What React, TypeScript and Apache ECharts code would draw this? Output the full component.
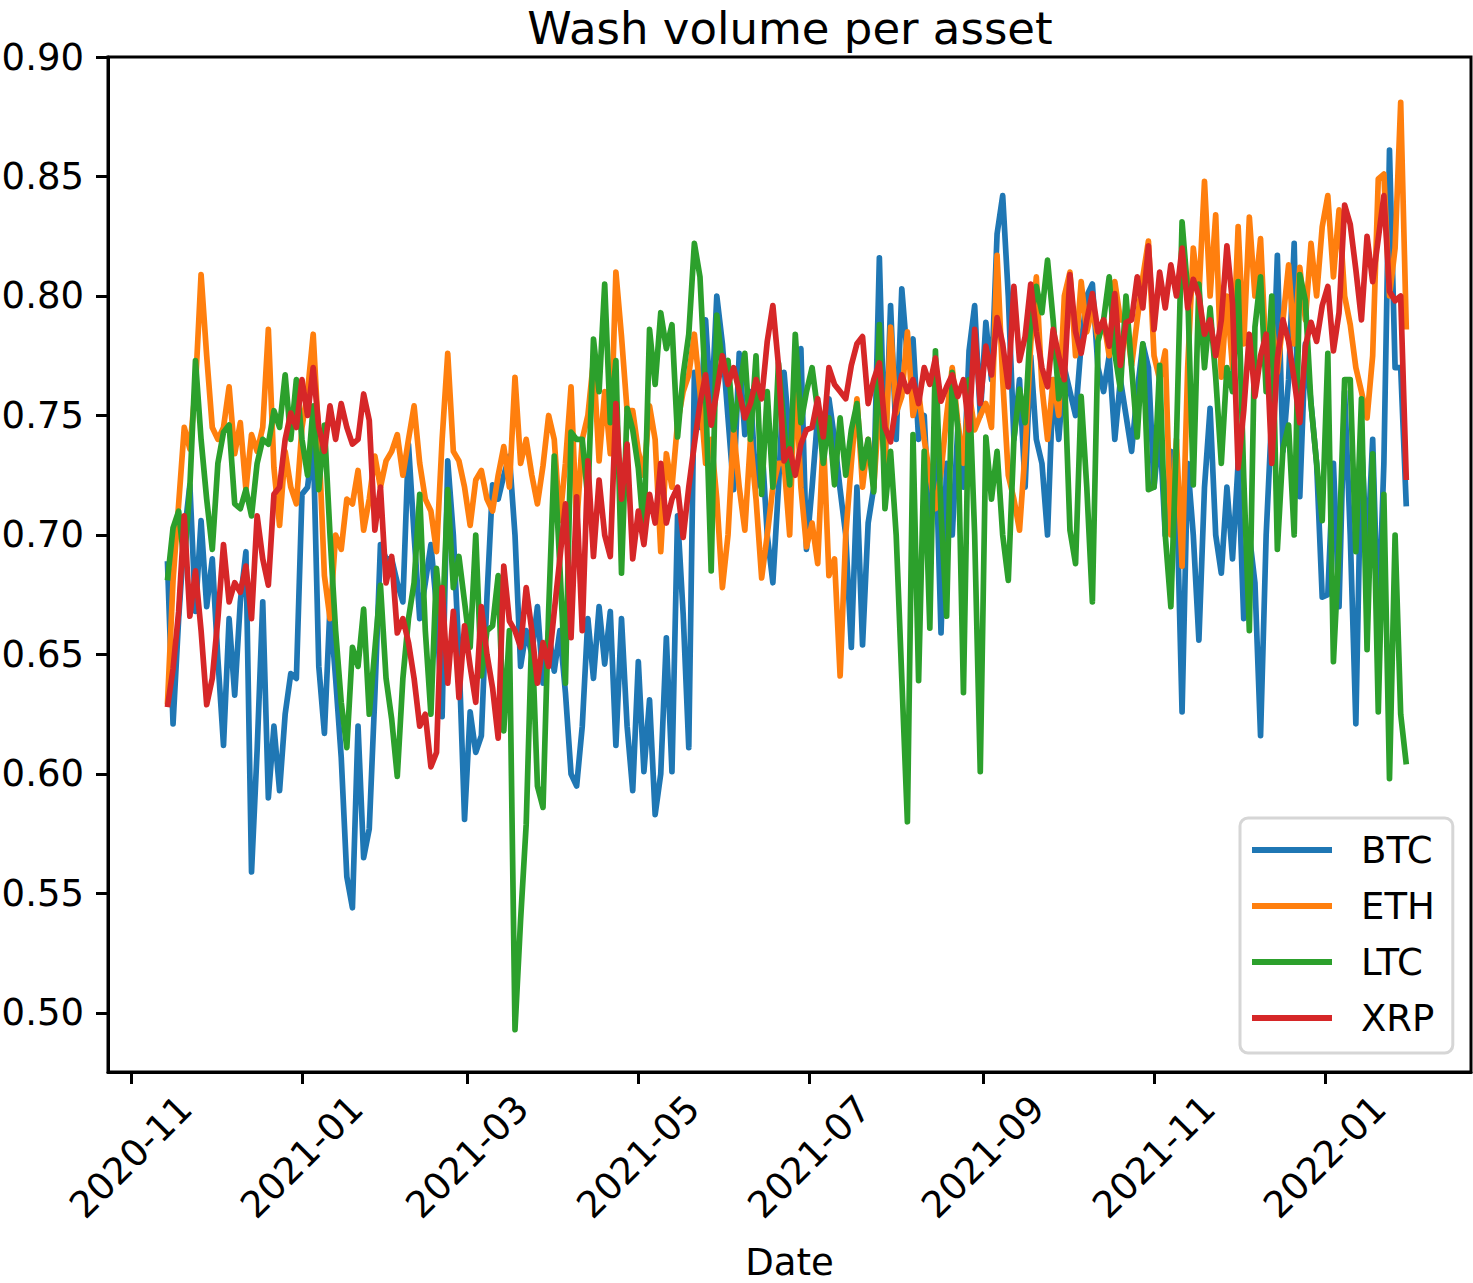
import React, { useEffect, useRef } from "react";
import * as echarts from "echarts";

// Daily-ish observations, one value every 2 days from 2020-11-14 (values in thousandths)
const DAY_MS = 86400000;
const START_DATE = Date.UTC(2020, 10, 14);
const STEP_DAYS = 2;

const SERIES_NAMES = ["BTC", "ETH", "LTC", "XRP"];
const COLORS = ["#1f77b4", "#ff7f0e", "#2ca02c", "#d62728"];

const X_TICK_DATES = [
  "2020-11-01", "2021-01-01", "2021-03-01", "2021-05-01",
  "2021-07-01", "2021-09-01", "2021-11-01", "2022-01-01",
];
const Y_TICKS = [0.5, 0.55, 0.6, 0.65, 0.7, 0.75, 0.8, 0.85, 0.9];
const X_RANGE = ["2020-10-23T19:00:00Z", "2022-02-22T02:00:00Z"];
const Y_RANGE = [0.4753, 0.9];

const BTC = [
  689, 621, 665, 700, 721, 668, 706, 670, 690,
  648, 612, 665, 633, 672, 693, 559, 610, 672, 590, 620, 593, 625, 642, 640,
  717, 720, 740, 645, 617, 670, 640, 607, 557, 544, 620, 565, 577, 633, 696, 690,
  690, 680, 672, 738, 700, 665, 680, 696, 670, 624, 731, 700, 650, 581,
  626, 609, 616, 674, 721, 715, 725, 733, 700, 645, 660, 650, 670, 638, 660,
  643, 660, 634, 600, 595, 620, 665, 640, 670, 646, 668, 612, 665, 620, 593,
  647, 601, 631, 583, 600, 657, 601, 708, 667, 611, 768, 745, 790, 750, 800, 780,
  749, 719, 776, 742, 760, 720, 740, 700, 680, 720, 768, 740, 750, 778, 694,
  720, 750, 735, 757, 740, 719, 700, 653, 720, 654, 705, 720, 816, 730, 796,
  740, 803, 774, 782, 740, 750, 700, 740, 659, 730, 700, 745, 720, 777, 796, 750,
  789, 765, 826, 842, 800, 740, 765, 720, 775, 740, 730, 700, 765, 740, 770,
  760, 750, 780, 800, 805, 770, 760, 775, 740, 765, 750, 735, 760, 780, 770,
  720, 745, 700, 735, 720, 626, 730, 700, 656, 720, 753, 700, 684, 720, 690,
  730, 665, 700, 680, 616, 700, 750, 817, 735, 765, 822, 716, 780, 755, 730, 674,
  675, 730, 670, 760, 700, 621, 740, 690, 740, 660, 730, 861, 770, 770, 712,
];

const ETH = [
  629, 681, 713, 745, 736, 762, 809, 775, 745,
  740, 745, 762, 734, 747, 719, 742, 735, 745, 786, 728, 704, 735, 720, 713,
  745, 760, 784, 740, 683, 665, 700, 694, 715, 713, 727, 702, 715, 733, 720, 731,
  735, 742, 725, 740, 754, 730, 715, 710, 693, 740, 776, 735, 731, 720,
  704, 723, 727, 715, 710, 725, 737, 720, 766, 730, 740, 725, 713, 729, 750,
  740, 706, 730, 762, 704, 740, 750, 773, 731, 760, 734, 810, 783, 752, 752,
  735, 725, 754, 740, 693, 734, 720, 747, 760, 767, 784, 760, 730, 740, 715, 678,
  700, 744, 720, 702, 740, 715, 682, 700, 720, 730, 730, 700, 770, 720, 695,
  705, 688, 742, 683, 690, 641, 700, 730, 757, 720, 740, 720, 755, 730, 787,
  751, 758, 785, 750, 760, 740, 725, 711, 726, 750, 770, 747, 730, 760, 744, 750,
  755, 745, 817, 765, 725, 715, 702, 735, 780, 808, 762, 740, 765, 750, 800,
  810, 775, 806, 785, 795, 782, 790, 775, 806, 790, 790, 771, 790, 808, 823,
  775, 765, 777, 700, 740, 687, 770, 820, 800, 848, 800, 834, 766, 800, 770,
  829, 780, 833, 800, 824, 773, 790, 768, 790, 813, 780, 812, 790, 822, 800, 829,
  842, 808, 836, 800, 788, 770, 760, 749, 775, 849, 851, 800, 820, 881, 786,
];

const LTC = [
  681, 703, 710, 688, 720, 773, 740, 715, 694,
  730, 743, 746, 713, 711, 719, 708, 730, 740, 738, 752, 745, 767, 740, 765,
  740, 725, 754, 719, 746, 700, 660, 630, 611, 653, 645, 669, 625, 652, 679, 640,
  623, 599, 640, 665, 680, 717, 660, 625, 686, 660, 719, 678, 691, 672,
  653, 700, 641, 660, 662, 683, 618, 660, 493, 539, 579, 660, 595, 586, 668,
  733, 687, 638, 743, 740, 740, 715, 782, 760, 805, 747, 773, 684, 753, 744,
  728, 700, 786, 763, 793, 778, 788, 741, 767, 784, 822, 808, 760, 685, 792, 770,
  773, 744, 760, 776, 740, 775, 717, 760, 720, 772, 745, 721, 784, 747, 760,
  770, 752, 730, 749, 721, 749, 725, 744, 755, 728, 740, 718, 788, 711, 735,
  700, 640, 580, 742, 639, 735, 661, 777, 709, 666, 768, 744, 634, 765, 700, 601,
  741, 715, 735, 700, 681, 740, 761, 747, 790, 804, 793, 815, 790, 757, 768,
  702, 688, 758, 720, 672, 781, 790, 808, 776, 761, 800, 770, 741, 780, 719,
  720, 771, 700, 670, 740, 831, 802, 721, 805, 770, 795, 766, 730, 770, 760,
  806, 724, 660, 787, 808, 760, 800, 694, 736, 746, 700, 809, 798, 755, 730, 706,
  776, 647, 695, 765, 765, 693, 757, 652, 734, 626, 717, 598, 700, 625, 604,
];

const XRP = [
  628, 644, 668, 708, 666, 685, 660, 629, 640,
  665, 696, 672, 680, 676, 687, 665, 708, 690, 679, 717, 720, 740, 751, 745,
  765, 750, 770, 745, 735, 754, 740, 755, 745, 738, 740, 759, 748, 702, 720, 680,
  691, 659, 665, 655, 640, 620, 625, 603, 609, 678, 638, 668, 632, 662,
  645, 630, 670, 650, 636, 615, 687, 664, 660, 653, 678, 660, 638, 655, 645,
  668, 690, 713, 657, 716, 660, 731, 691, 723, 700, 691, 755, 715, 738, 690,
  710, 696, 717, 705, 730, 705, 715, 720, 699, 720, 738, 755, 767, 746, 760, 775,
  763, 770, 760, 749, 755, 765, 757, 781, 796, 771, 731, 736, 725, 738, 744,
  745, 757, 741, 770, 763, 760, 757, 771, 780, 783, 755, 765, 772, 745, 739,
  755, 767, 760, 765, 755, 770, 763, 774, 756, 762, 767, 758, 765, 744, 786, 755,
  779, 767, 791, 780, 762, 804, 773, 783, 805, 785, 770, 762, 786, 775, 765,
  809, 785, 776, 790, 801, 785, 790, 779, 801, 771, 789, 790, 808, 795, 821,
  786, 810, 795, 813, 800, 820, 795, 807, 800, 784, 790, 775, 790, 821, 797,
  728, 752, 784, 758, 775, 784, 730, 774, 790, 781, 765, 747, 779, 789, 781, 796,
  804, 777, 793, 838, 830, 811, 790, 825, 806, 824, 842, 802, 798, 800, 723,
];

const SERIES_VALUES = [BTC, ETH, LTC, XRP];

const FONT = "DejaVu Sans";

function toPoints(values: number[]) {
  return values.map((v, i) => [START_DATE + i * STEP_DAYS * DAY_MS, v / 1000]);
}

function fmtDate(val: number) {
  const d = new Date(val);
  return d.getUTCFullYear() + "-" + String(d.getUTCMonth() + 1).padStart(2, "0");
}

export default function App() {
  const ref = useRef<HTMLDivElement>(null);

  useEffect(() => {
    document.body.style.margin = "0";
    const chart = echarts.init(ref.current as HTMLDivElement, null, { renderer: "svg" });
    const xTicks = X_TICK_DATES.map((s) => Date.parse(s + "T00:00:00Z"));

    const option: any = {
      animation: false,
      backgroundColor: "#ffffff",
      grid: {
        left: 108,
        right: 2,
        top: 57,
        bottom: 211,
        containLabel: false,
        outerBoundsMode: "none",
        show: true,
        borderColor: "#000",
        borderWidth: 3,
        backgroundColor: "transparent",
      },
      graphic: [
        {
          type: "text",
          x: 790,
          y: 28,
          silent: true,
          style: {
            text: "Wash volume per asset",
            fontSize: 45,
            fontFamily: FONT,
            fill: "#000",
            align: "center",
            verticalAlign: "middle",
          },
        },
      ],
      xAxis: {
        type: "value",
        min: Date.parse(X_RANGE[0]),
        max: Date.parse(X_RANGE[1]),
        axisLine: { show: true, lineStyle: { color: "#000", width: 3 } },
        splitLine: { show: false },
        axisTick: {
          show: true,
          customValues: xTicks,
          length: 12,
          lineStyle: { color: "#000", width: 3 },
        },
        axisLabel: {
          customValues: xTicks,
          formatter: (v: number) => fmtDate(v),
          rotate: 45,
          align: "center",
          verticalAlign: "middle",
          margin: 85,
          fontSize: 37,
          fontFamily: FONT,
          color: "#000",
        },
        name: "Date",
        nameLocation: "middle",
        nameGap: 190,
        nameTextStyle: {
          fontSize: 37,
          fontFamily: FONT,
          color: "#000",
          verticalAlign: "middle",
        },
      },
      yAxis: {
        type: "value",
        min: Y_RANGE[0],
        max: Y_RANGE[1],
        axisLine: { show: true, lineStyle: { color: "#000", width: 3 } },
        splitLine: { show: false },
        axisTick: {
          show: true,
          customValues: Y_TICKS,
          length: 12,
          lineStyle: { color: "#000", width: 3 },
        },
        axisLabel: {
          customValues: Y_TICKS,
          formatter: (v: number) => v.toFixed(2),
          margin: 24,
          fontSize: 37,
          fontFamily: FONT,
          color: "#000",
        },
      },
      legend: {
        orient: "vertical",
        left: 1240,
        top: 818,
        data: SERIES_NAMES,
        icon: "rect",
        itemWidth: 80,
        itemHeight: 6,
        itemGap: 16,
        padding: [12, 18, 15, 12],
        borderColor: "#d6d6d6",
        borderWidth: 3,
        borderRadius: 8,
        backgroundColor: "#ffffff",
        selectedMode: false,
        textStyle: {
          fontSize: 37,
          fontFamily: FONT,
          color: "#000",
          lineHeight: 40,
          padding: [0, 0, 0, 24],
        },
      },
      series: SERIES_NAMES.map((name, i) => ({
        name,
        type: "line",
        data: toPoints(SERIES_VALUES[i]),
        showSymbol: false,
        symbol: "none",
        silent: true,
        z: 2 + i,
        color: COLORS[i],
        itemStyle: { color: COLORS[i] },
        lineStyle: { color: COLORS[i], width: 5.7, join: "round", cap: "butt" },
        emphasis: { disabled: true },
      })),
    };

    chart.setOption(option);
    return () => chart.dispose();
  }, []);

  return <div ref={ref} style={{ width: 1473, height: 1283 }} />;
}
